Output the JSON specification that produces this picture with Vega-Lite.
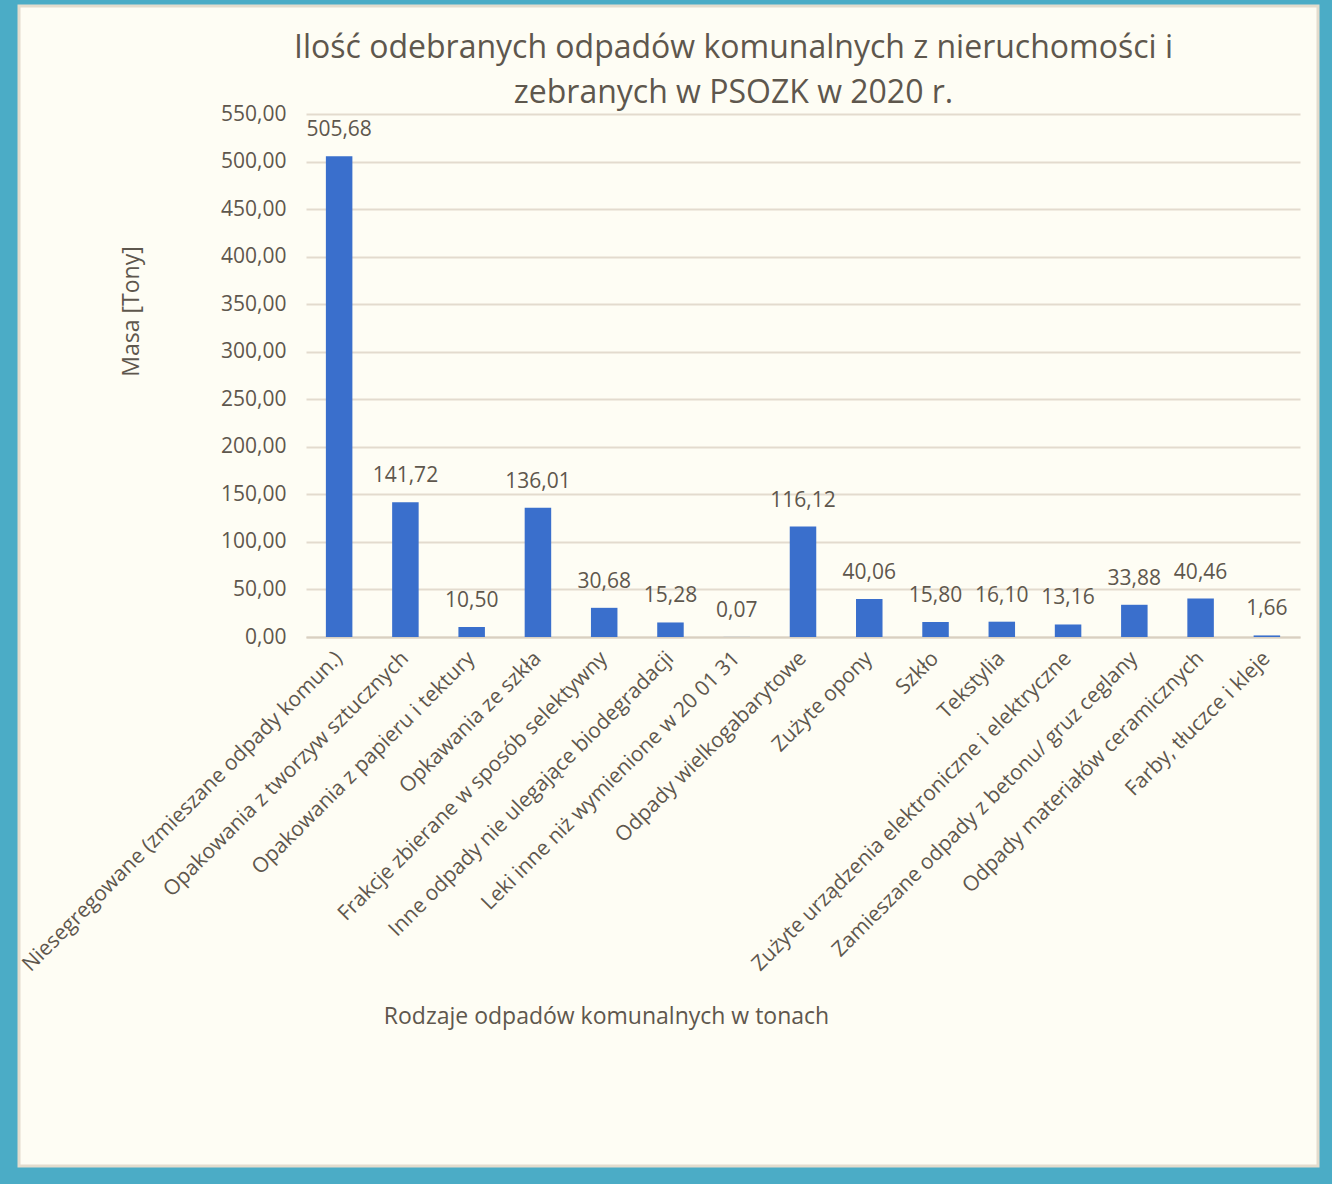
{
  "$schema": "https://vega.github.io/schema/vega-lite/v6.json",
  "width": 1299,
  "height": 1160,
  "autosize": {"type": "none"},
  "padding": {"left": 19, "top": 6, "right": 14, "bottom": 18},
  "background": "#4BACC6",
  "title": {
    "text": ["Ilość odebranych  odpadów komunalnych z nieruchomości  i", "zebranych  w PSOZK w 2020 r."],
    "fontSize": 32,
    "font": "Open Sans",
    "fontWeight": "normal",
    "color": "#5E574D",
    "lineHeight": 45,
    "anchor": "middle",
    "frame": "group",
    "dx": 65,
    "offset": -104
  },
  "data": {
    "values": [
      {"rodzaj": "Niesegregowane (zmieszane odpady komun.)", "masa": 505.68},
      {"rodzaj": "Opakowania z tworzyw sztucznych", "masa": 141.72},
      {"rodzaj": "Opakowania z papieru i tektury", "masa": 10.50},
      {"rodzaj": "Opkawania ze szkła", "masa": 136.01},
      {"rodzaj": "Frakcje zbierane w sposób selektywny", "masa": 30.68},
      {"rodzaj": "Inne odpady nie ulegające biodegradacji", "masa": 15.28},
      {"rodzaj": "Leki inne niż wymienione w 20 01 31", "masa": 0.07},
      {"rodzaj": "Odpady wielkogabarytowe", "masa": 116.12},
      {"rodzaj": "Zużyte opony", "masa": 40.06},
      {"rodzaj": "Szkło", "masa": 15.80},
      {"rodzaj": "Tekstylia", "masa": 16.10},
      {"rodzaj": "Zużyte urządzenia elektroniczne i elektryczne", "masa": 13.16},
      {"rodzaj": "Zamieszane odpady z betonu/ gruz ceglany", "masa": 33.88},
      {"rodzaj": "Odpady materiałów ceramicznych", "masa": 40.46},
      {"rodzaj": "Farby, tłuczce i kleje", "masa": 1.66}
    ]
  },
  "encoding": {
    "x": {
      "field": "rodzaj",
      "type": "nominal",
      "sort": null,
      "scale": {"range": [287, 1281], "paddingInner": 0, "paddingOuter": 0},
      "axis": {
        "orient": "bottom",
        "offset": -529,
        "title": "Rodzaje odpadów komunalnych w tonach",
        "titleX": 587,
        "titleY": 379,
        "titleAlign": "center",
        "titleBaseline": "middle",
        "titleFontSize": 23,
        "titleFontWeight": "normal",
        "titleColor": "#5E574D",
        "labelAngle": -45,
        "labelAlign": "right",
        "labelBaseline": "middle",
        "labelPadding": 18,
        "labelFontSize": 21,
        "labelColor": "#5E574D",
        "labelLimit": 800,
        "labelOverlap": false,
        "labelBound": false,
        "ticks": false,
        "tickSize": 0,
        "domain": true,
        "domainColor": "#D9D0C1",
        "domainWidth": 2,
        "grid": false
      }
    },
    "y": {
      "field": "masa",
      "type": "quantitative",
      "scale": {"domain": [0, 550], "range": [631, 108], "nice": false},
      "axis": {
        "orient": "left",
        "offset": -287,
        "values": [0, 50, 100, 150, 200, 250, 300, 350, 400, 450, 500, 550],
        "format": ".2f",
        "labelExpr": "replace(format(datum.value, '.2f'), '.', ',')",
        "title": "Masa [Tony]",
        "titleX": -175,
        "titleY": 305,
        "titleAngle": -90,
        "titleAlign": "center",
        "titleBaseline": "middle",
        "titleFontSize": 23,
        "titleFontWeight": "normal",
        "titleColor": "#5E574D",
        "labelFontSize": 21,
        "labelColor": "#5E574D",
        "labelPadding": 20,
        "ticks": false,
        "tickSize": 0,
        "domain": false,
        "grid": true,
        "gridColor": "#E3DBCE",
        "gridWidth": 2
      }
    }
  },
  "layer": [
    {"mark": {"type": "bar", "color": "#3A6FCC", "width": {"band": 0.4}}},
    {
      "mark": {"type": "text", "baseline": "middle", "align": "center", "dy": -26, "fontSize": 21, "color": "#5E574D"},
      "encoding": {"text": {"field": "masa", "type": "quantitative", "format": ".2f"}}
    }
  ],
  "config": {
    "font": "Open Sans",
    "locale": {"number": {"decimal": ",", "thousands": " ", "grouping": [3], "currency": ["", " zł"]}},
    "view": {"fill": "#FEFDF4", "stroke": "#E3DCCD", "strokeWidth": 3}
  }
}
